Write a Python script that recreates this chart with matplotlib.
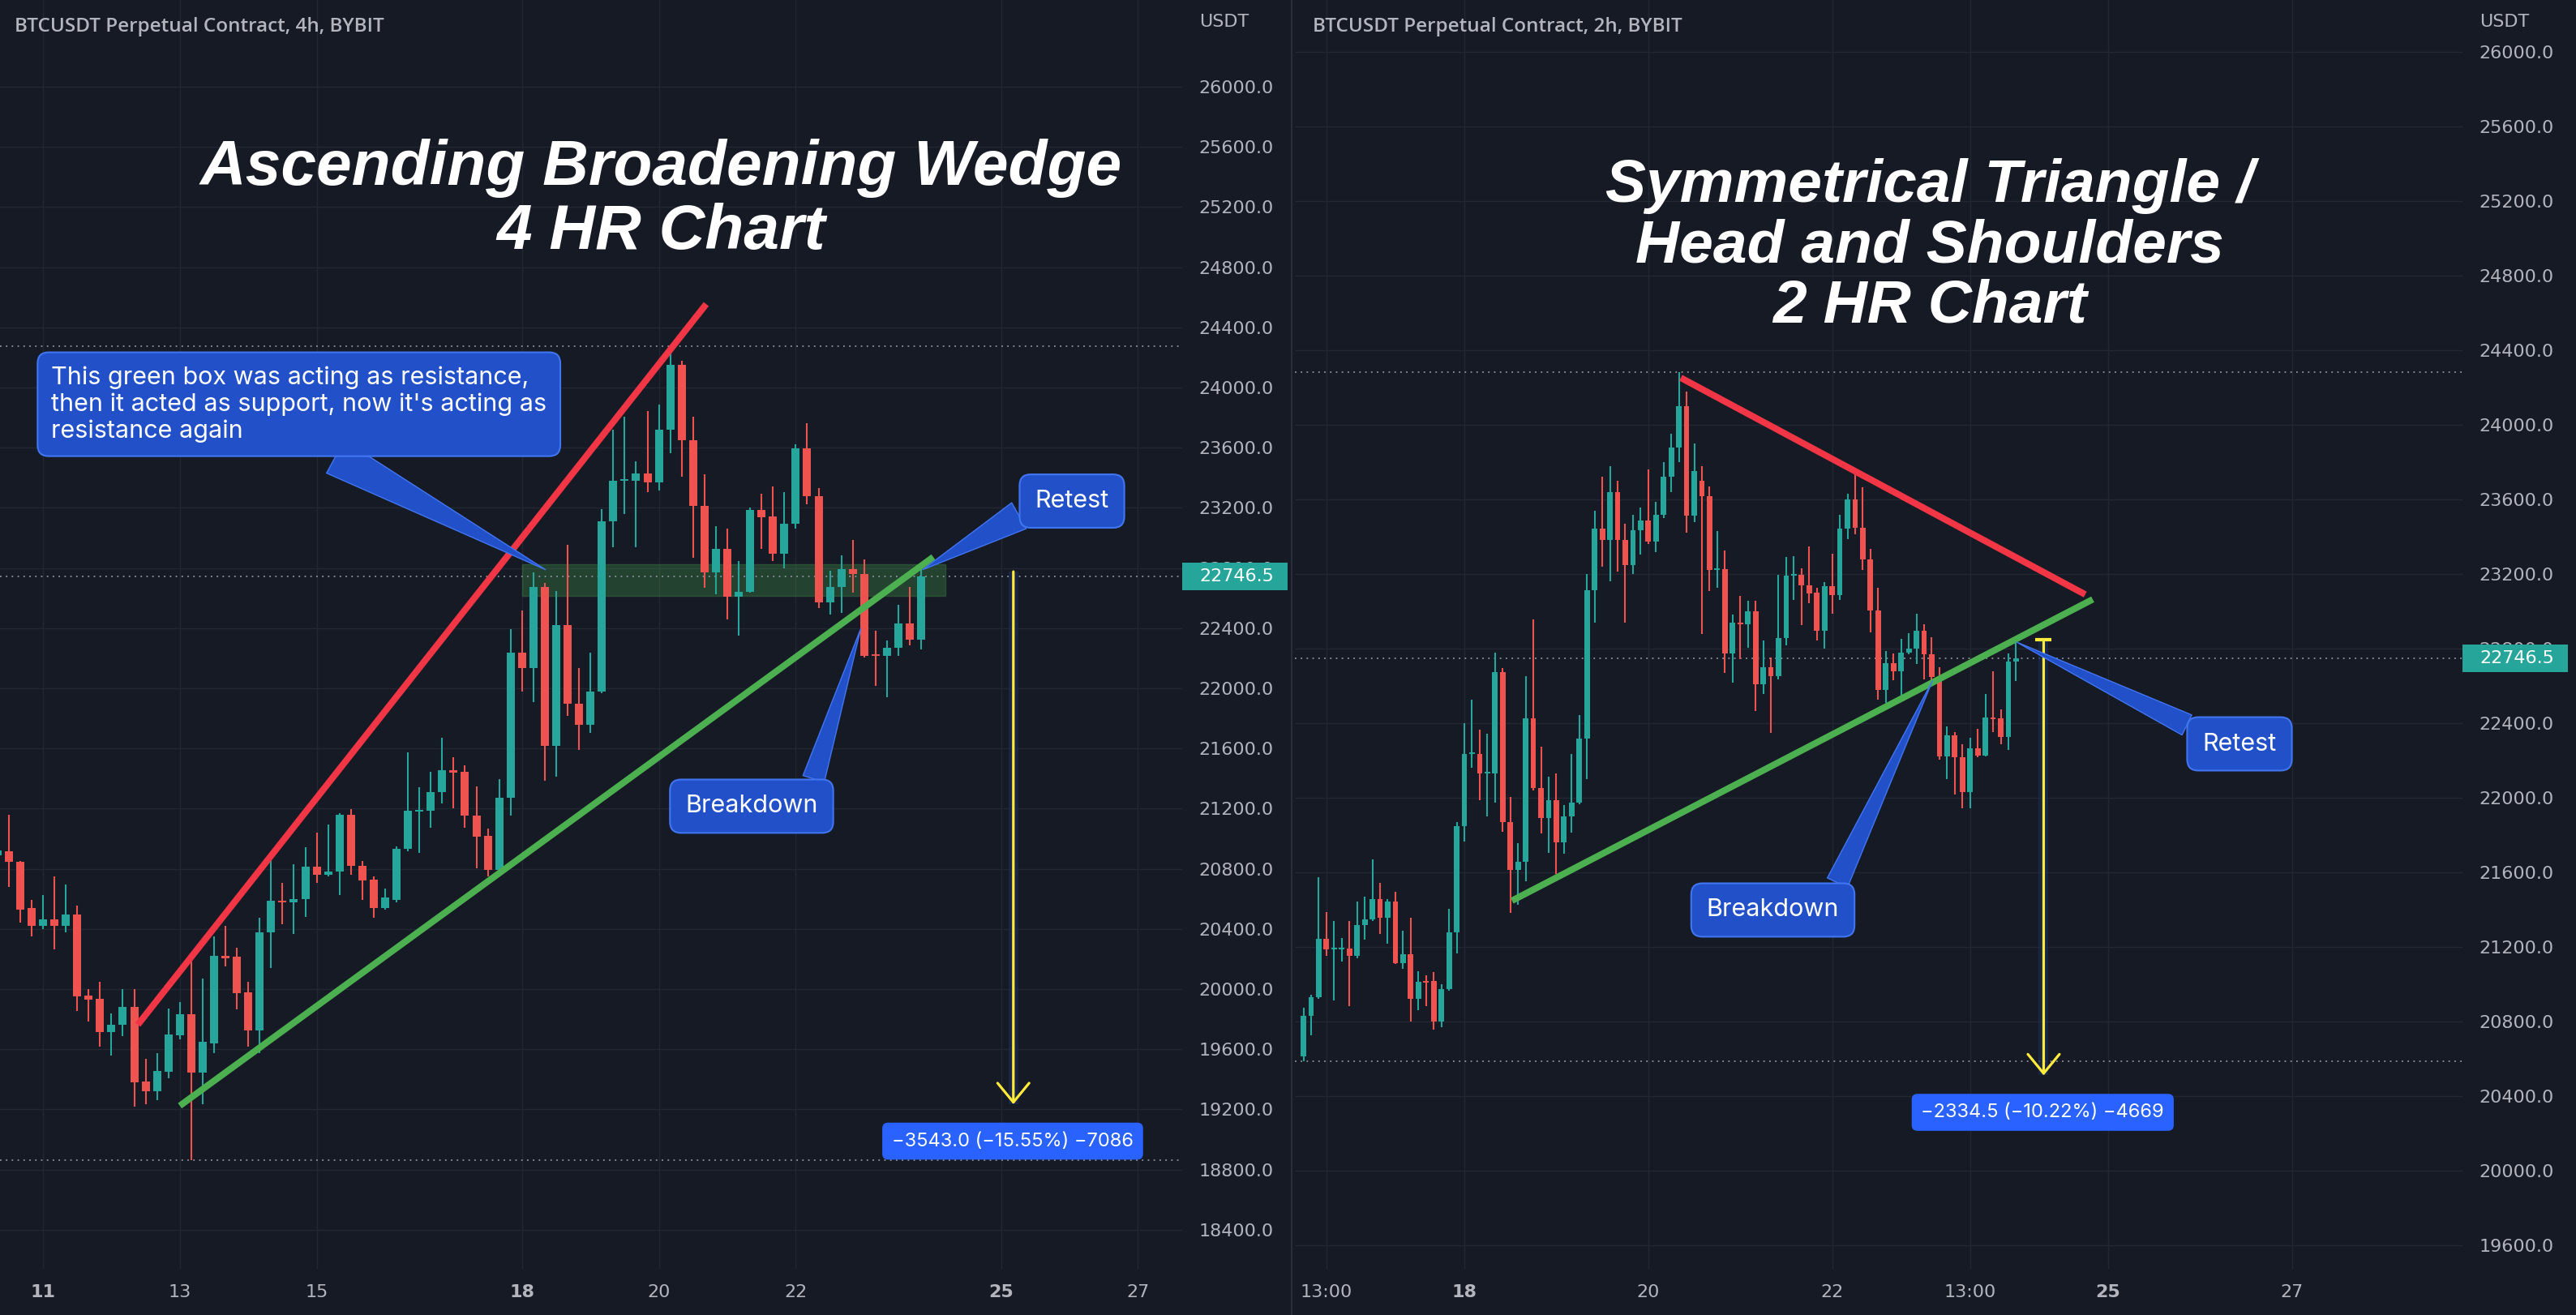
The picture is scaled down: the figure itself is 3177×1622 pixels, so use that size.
import numpy as np
import matplotlib.pyplot as plt
from matplotlib.patches import Rectangle
from matplotlib.lines import Line2D

W, H = 3177, 1622
BG = '#161a25'
GRID = '#232733'
TXT = '#b2b5be'
UP = '#26a69a'
DOWN = '#ef5350'
RED_LINE = '#f23645'
GREEN_LINE = '#4caf50'
BOX = '#2150c8'
BOX_EDGE = '#4176f2'
YELLOW = '#ffeb3b'
MEASURE = '#2962ff'
DOTS = '#8c92a0'

# ---------------- 4h candles (left chart), first bar on the 10th, 08:00 ----------------
t0_4h = 10 + 8 / 24
open_4h = [20890, 20914, 20848, 20537, 20420, 20465, 20420, 20496, 19957, 19936, 19716, 19761,
           19881, 19385, 19319, 19448, 19694, 19834, 19442, 19638, 20220, 20214, 19977, 19726,
           20375, 20589, 20575, 20599, 20815, 20760, 20780, 21161, 20822, 20729, 20537, 20595,
           20935, 21182, 21186, 21311, 21454, 21443, 21155, 21017, 20791, 21270, 22237, 22134,
           22673, 21616, 22422, 21898, 21760, 21976, 23111, 23379, 23382, 23430, 23372, 23722,
           24150, 23652, 23214, 22772, 22926, 22607, 22644, 23187, 23142, 22895, 23095, 23598,
           23276, 22570, 22673, 22792, 22761, 22221, 22213, 22268, 22432, 22324]
high_4h = [21060, 21161, 20850, 20595, 20626, 20750, 20698, 20554, 19998, 20050, 19837, 20002,
           19998, 19535, 19576, 19870, 19916, 20194, 20070, 20348, 20420, 20276, 20050, 20472,
           20894, 20708, 20832, 20945, 21038, 21093, 21172, 21196, 20852, 20750, 20671, 20949,
           21573, 21340, 21443, 21670, 21542, 21490, 21346, 21068, 21398, 22391, 22515, 22772,
           22700, 22648, 22953, 22134, 22237, 23193, 23718, 23804, 23512, 23845, 23886, 24277,
           24180, 23804, 23424, 23076, 23060, 22844, 23200, 23296, 23344, 23303, 23625, 23763,
           23331, 22782, 22885, 22988, 22858, 22385, 22319, 22556, 22673, 22792]
low_4h = [20790, 20677, 20441, 20348, 20400, 20265, 20379, 19854, 19782, 19617, 19556, 19689,
          19220, 19236, 19261, 19407, 19663, 18860, 19236, 19576, 20153, 19864, 19617, 19576,
          20142, 20430, 20369, 20482, 20708, 20750, 20626, 20760, 20595, 20472, 20529, 20579,
          20914, 20908, 21073, 21233, 21202, 21073, 20801, 20750, 20780, 21151, 21980, 21908,
          21384, 21414, 21815, 21589, 21702, 21969, 22940, 23158, 22940, 23302, 23313, 23563,
          23409, 22870, 22669, 22624, 22459, 22350, 22638, 22926, 22844, 22798, 23060, 23224,
          22535, 22490, 22504, 22638, 22206, 22015, 21939, 22213, 22288, 22257]
close_4h = [20920, 20846, 20529, 20420, 20465, 20420, 20496, 19953, 19930, 19714, 19761, 19881,
            19381, 19319, 19457, 19700, 19834, 19442, 19648, 20220, 20204, 19971, 19726, 20375,
            20589, 20575, 20599, 20815, 20760, 20780, 21161, 20822, 20723, 20537, 20610, 20935,
            21186, 21186, 21311, 21454, 21439, 21151, 21011, 20791, 21274, 22237, 22134, 22673,
            21616, 22422, 21898, 21760, 21976, 23111, 23382, 23382, 23430, 23372, 23722, 24150,
            23650, 23214, 22772, 22926, 22607, 22644, 23187, 23138, 22895, 23095, 23598, 23276,
            22570, 22673, 22792, 22761, 22216, 22213, 22268, 22432, 22324, 22746.5]

# ---------------- 2h candles (right chart), first bar on the 16th, 06:00 ----------------
t0_2h = 16.25
open_2h = [20613, 20831, 20929, 21243, 21185, 21188, 21191, 21153, 21316, 21347, 21455, 21357,
           21444, 21112, 21160, 20921, 21019, 21019, 20800, 20973, 21278, 21846, 22235, 22235,
           22131, 22131, 22675, 21871, 21615, 21657, 22426, 22051, 21891, 21989, 21760, 21902,
           21975, 22318, 23112, 23445, 23382, 23640, 23382, 23249, 23436, 23486, 23374, 23519,
           23720, 23880, 24100, 23513, 23700, 23617, 23222, 23228, 22775, 22937, 22931, 23000,
           22609, 22702, 22650, 22858, 23191, 23195, 23141, 23099, 22897, 23135, 23087, 23442,
           23600, 23447, 23279, 23005, 22577, 22721, 22678, 22780, 22798, 22894, 22768, 22649,
           22222, 22335, 22216, 22029, 22267, 22227, 22432, 22425, 22325, 22732]
high_2h = [20873, 20945, 21575, 21388, 21341, 21247, 21341, 21444, 21469, 21669, 21542, 21455,
           21496, 21288, 21355, 21070, 21050, 21066, 20998, 21403, 21871, 22401, 22526, 22364,
           22343, 22779, 22696, 22006, 21757, 22654, 22956, 22276, 22114, 22131, 21960, 22235,
           22443, 23201, 23540, 23720, 23780, 23700, 23471, 23519, 23555, 23760, 23586, 23800,
           23950, 24283, 24180, 23900, 23780, 23669, 23430, 23326, 22983, 23081, 23056, 23056,
           22842, 22754, 23195, 23291, 23297, 23231, 23348, 23128, 23158, 23308, 23519, 23631,
           23762, 23663, 23333, 23128, 22789, 22775, 22852, 22883, 22987, 22930, 22861, 22699,
           22384, 22353, 22285, 22321, 22371, 22555, 22677, 22474, 22775, 22834]
low_2h = [20587, 20727, 20921, 21153, 20914, 21122, 20881, 21137, 21241, 21340, 21268, 21216,
          21108, 21081, 20800, 20862, 20883, 20758, 20769, 20966, 21164, 21767, 22162, 21985,
          21902, 21975, 21819, 21382, 21424, 21552, 22037, 21808, 21704, 21590, 21698, 21815,
          21964, 22099, 22937, 23237, 23160, 23212, 22941, 23201, 23305, 23361, 23316, 23499,
          23640, 23800, 23420, 23480, 22879, 23108, 23124, 22671, 22619, 22744, 22806, 22463,
          22557, 22349, 22634, 22817, 23060, 22924, 23042, 22843, 22798, 22987, 23059, 23387,
          23411, 23222, 22888, 22528, 22510, 22631, 22519, 22771, 22717, 22636, 22631, 22204,
          22101, 22018, 21942, 21942, 22216, 22222, 22353, 22288, 22258, 22624]
close_2h = [20831, 20929, 21243, 21185, 21191, 21191, 21153, 21316, 21347, 21455, 21357, 21444,
            21112, 21160, 20921, 21014, 21008, 20800, 20973, 21278, 21846, 22235, 22238, 22131,
            22137, 22675, 21871, 21615, 21657, 22426, 22051, 21891, 21989, 21760, 21902, 21975,
            22318, 23112, 23445, 23382, 23640, 23382, 23249, 23436, 23486, 23374, 23519, 23720,
            23880, 24100, 23513, 23750, 23617, 23222, 23228, 22775, 22937, 22931, 23000, 22609,
            22702, 22650, 22858, 23191, 23195, 23141, 23096, 22897, 23135, 23087, 23442, 23600,
            23447, 23279, 23005, 22577, 22721, 22678, 22780, 22798, 22894, 22768, 22649, 22222,
            22335, 22216, 22029, 22267, 22227, 22432, 22420, 22325, 22732, 22746.5]

last_price = 22746.5

# axis ticks
left_days = [11, 13, 15, 18, 20, 22, 25, 27]
left_day_labels = ['11', '13', '15', '18', '20', '22', '25', '27']
right_days = [16.5, 18, 20, 22, 23.5, 25, 27]
right_day_labels = ['13:00', '18', '20', '22', '13:00', '25', '27']
left_prices = list(range(18400, 26001, 400))
right_prices = list(range(19600, 26001, 400))

# drawings (day, price)
wedge_upper = ([12.386, 20.692], [19763, 24555])
wedge_lower = ([13.0, 24.01], [19224, 22873])
zone_days = (18.0, 24.19)
zone_prices = (22617, 22825)
left_high, left_low = 24277, 18860
left_measure = (25.18, 22776, 19234)
left_measure_label = '\u22123543.0 (\u221215.55%) \u22127086'

tri_upper = ([20.354, 24.752], [24252, 23090])
tri_lower = ([18.518, 24.834], [21448, 23064])
right_high, right_low = 24283, 20587
right_measure = (24.30, 22846, 20511)
right_measure_label = '\u22122334.5 (\u221210.22%) \u22124669'

fig = plt.figure(figsize=(W / 100, H / 100), dpi=100, facecolor=BG)
ax_l = fig.add_axes([0, 1 - 1565 / H, 1458 / W, 1565 / H])
ax_r = fig.add_axes([1597 / W, 1 - 1565 / H, 1440 / W, 1565 / H])


def style(ax, xlim, ylim, xt, xl, yt, bold):
    ax.set_facecolor(BG)
    ax.set_xlim(*xlim)
    ax.set_ylim(*ylim)
    for s in ax.spines.values():
        s.set_visible(False)
    ax.set_xticks(xt)
    ax.set_xticklabels(xl)
    ax.set_yticks(yt)
    ax.set_yticklabels([f'{v:.1f}' for v in yt])
    ax.yaxis.tick_right()
    ax.tick_params(axis='both', length=0, labelsize=16, labelcolor=TXT)
    ax.tick_params(axis='y', pad=15)
    ax.tick_params(axis='x', pad=14)
    ax.grid(True, color=GRID, lw=1.0)
    for lab in ax.get_xticklabels():
        if lab.get_text() in bold:
            lab.set_fontweight('bold')


def candles(ax, t0, step, o, h, l, c, width, min_body):
    o, h, l, c = map(np.asarray, (o, h, l, c))
    t = t0 + np.arange(len(o)) * step
    col = np.where(c >= o, UP, DOWN)
    ax.vlines(t, l, h, colors=col, lw=1.5, zorder=3)
    ax.bar(t, np.maximum(np.abs(c - o), min_body), width * step, np.minimum(o, c),
           color=col, lw=0, zorder=4)


def dotted(ax, y):
    ax.axhline(y, color=DOTS, lw=1.3, ls=(0, (1, 3)), zorder=2)


def callout(ax, text, tip, pos, relpos, tail, size=22, ha='center', pad=0.62):
    ax.annotate(text, xy=tip, xytext=pos, ha=ha, va='center', color='white', fontsize=size,
                family='Inter', zorder=12, linespacing=1.2, annotation_clip=False,
                bbox=dict(boxstyle=f'round,pad={pad},rounding_size=0.45', fc=BOX, ec=BOX_EDGE, lw=1.5),
                arrowprops=dict(arrowstyle=f'wedge,tail_width={tail},shrink_factor=0.5',
                                fc=BOX, ec=BOX_EDGE, lw=1, relpos=relpos, shrinkA=0, shrinkB=0))


def measure(ax, m, label, label_pos, band, cap):
    x, top, bottom = m
    ax.add_patch(Rectangle((x - band / 2, bottom), band, top - bottom, fc='#1d2b55', alpha=0.7,
                           lw=0, zorder=5))
    ax.annotate('', xy=(x, bottom), xytext=(x, top), zorder=7,
                arrowprops=dict(arrowstyle='->,head_length=0.85,head_width=0.7', color=YELLOW,
                                lw=2.3, mutation_scale=20, shrinkA=0, shrinkB=0))
    if cap:
        ax.plot([x], [top], marker='_', ms=14, mew=3, color=YELLOW, zorder=7)
    ax.text(*label_pos, label, ha='center', va='center', color='white', fontsize=17,
            family='Inter', zorder=12,
            bbox=dict(boxstyle='round,pad=0.5,rounding_size=0.3', fc=MEASURE, ec='none'))


def price_box(ax, price, x_px):
    _, yd = ax.transData.transform((0, price))
    fig.add_artist(Rectangle((x_px / W, (yd - 17) / H), 130 / W, 34 / H,
                             transform=fig.transFigure, fc=UP, ec='none', zorder=5))
    fig.text((x_px + 21) / W, yd / H, f'{price:.1f}', color='white', fontsize=16,
             va='center', ha='left', zorder=6)


# ---------------- left: 4h ascending broadening wedge ----------------
style(ax_l, (10.372, 27.647), (18140, 26577), left_days, left_day_labels, left_prices,
      {'11', '18', '25'})
ax_l.add_patch(Rectangle((zone_days[0], zone_prices[0]), zone_days[1] - zone_days[0],
                         zone_prices[1] - zone_prices[0], fc=GREEN_LINE, alpha=0.27,
                         ec=GREEN_LINE, lw=1, zorder=2))
for y in (left_high, left_low, last_price):
    dotted(ax_l, y)
candles(ax_l, t0_4h, 1 / 6, open_4h, high_4h, low_4h, close_4h, 0.71, 11)
ax_l.plot(*wedge_upper, color=RED_LINE, lw=5.8, solid_capstyle='butt', zorder=6)
ax_l.plot(*wedge_lower, color=GREEN_LINE, lw=5.8, solid_capstyle='butt', zorder=6)
measure(ax_l, left_measure, left_measure_label, (25.17, 18989), 0.14, False)
callout(ax_l, "This green box was acting as resistance,\nthen it acted as support, now it's acting as\nresistance again",
        (18.343, 22789), (11.12, 23889), (0.52, 0), 1.5, size=22, ha='left', pad=0.55)
callout(ax_l, 'Retest', (23.855, 22789), (26.036, 23245), (0, 0.25), 1.2)
callout(ax_l, 'Breakdown', (22.95, 22396), (21.355, 21216), (0.93, 1), 0.9)

# ---------------- right: 2h symmetrical triangle ----------------
style(ax_r, (16.157, 28.855), (19474, 26278), right_days, right_day_labels, right_prices,
      {'18', '25'})
for y in (right_high, right_low, last_price):
    dotted(ax_r, y)
candles(ax_r, t0_2h, 1 / 12, open_2h, high_2h, low_2h, close_2h, 0.72, 9)
ax_r.plot(*tri_upper, color=RED_LINE, lw=5.8, solid_capstyle='butt', zorder=6)
ax_r.plot(*tri_lower, color=GREEN_LINE, lw=5.8, solid_capstyle='butt', zorder=6)
measure(ax_r, right_measure, right_measure_label, (24.29, 20313), 0.105, True)
callout(ax_r, 'Retest', (24.005, 22835), (26.43, 22289), (0.03, 0.95), 0.9)
callout(ax_r, 'Breakdown', (23.09, 22626), (21.355, 21398), (0.93, 1), 0.9)

# ---------------- frame texts ----------------
price_box(ax_l, last_price, 1458)
price_box(ax_r, last_price, 3037)
fig.text(1479 / W, 1 - 27 / H, 'USDT', color=TXT, fontsize=16, va='center', ha='left')
fig.text(3058 / W, 1 - 27 / H, 'USDT', color=TXT, fontsize=16, va='center', ha='left')
fig.text(18 / W, 1 - 33 / H, 'BTCUSDT Perpetual Contract, 4h, BYBIT', color=TXT, fontsize=17.5,
         family='Open Sans', weight='semibold', va='center', ha='left')
fig.text(1619 / W, 1 - 33 / H, 'BTCUSDT Perpetual Contract, 2h, BYBIT', color=TXT, fontsize=17.5,
         family='Open Sans', weight='semibold', va='center', ha='left')
fig.text(815 / W, 1 - 247 / H, 'Ascending Broadening Wedge\n4 HR Chart', color='white',
         fontsize=56.5, family='Liberation Sans', weight='bold', style='italic',
         ha='center', va='center', linespacing=1.1, zorder=8)
fig.text(2380 / W, 1 - 304 / H, 'Symmetrical Triangle /\nHead and Shoulders\n2 HR Chart',
         color='white', fontsize=54, family='Liberation Sans', weight='bold', style='italic',
         ha='center', va='center', linespacing=1.1, zorder=8)
fig.add_artist(Line2D([1593 / W] * 2, [0, 1], color='#2a2e39', lw=1.5, transform=fig.transFigure))

fig.savefig('out.png', dpi=100, facecolor=BG)
